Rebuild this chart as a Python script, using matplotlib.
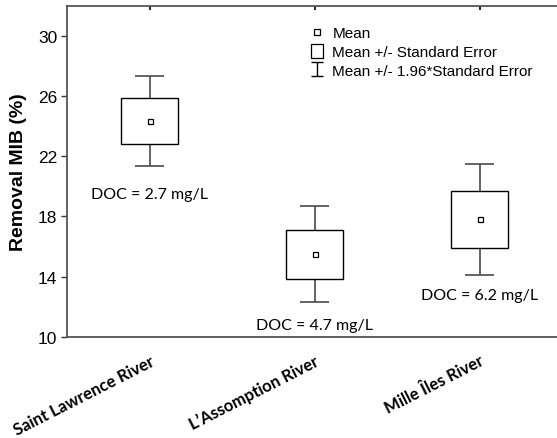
import matplotlib
matplotlib.use("Agg")
import matplotlib.pyplot as plt
from matplotlib.lines import Line2D
from matplotlib.path import Path

# Removal of MIB per source water: mean and standard error
rivers = ["Saint Lawrence River", "L\u2019Assomption River", "Mille \u00celes River"]
mean_removal = [24.35, 15.5, 17.8]
std_error = [1.53, 1.63, 1.89]
doc_labels = ["DOC = 2.7 mg/L", "DOC = 4.7 mg/L", "DOC = 6.2 mg/L"]
doc_label_y = [19.5, 10.8, 12.8]
y_ticks = [10, 14, 18, 22, 26, 30]

fig = plt.figure(figsize=(5.57, 4.39), dpi=100)
ax = fig.add_axes([67 / 557, 101 / 439, 495 / 557, 331.5 / 439])

x = list(range(len(rivers)))
box_w = 0.345
cap_w = 0.175
wcol = "#4a4a4a"

lo_box = [m - s for m, s in zip(mean_removal, std_error)]
hi_box = [m + s for m, s in zip(mean_removal, std_error)]
lo_wh = [m - 1.96 * s for m, s in zip(mean_removal, std_error)]
hi_wh = [m + 1.96 * s for m, s in zip(mean_removal, std_error)]

# whiskers (mean +/- 1.96 SE)
ax.vlines(x, hi_box, hi_wh, color=wcol, lw=1.2, zorder=2)
ax.vlines(x, lo_wh, lo_box, color=wcol, lw=1.2, zorder=2)
ax.hlines(hi_wh, [i - cap_w / 2 for i in x], [i + cap_w / 2 for i in x], color=wcol, lw=1.2, zorder=2)
ax.hlines(lo_wh, [i - cap_w / 2 for i in x], [i + cap_w / 2 for i in x], color=wcol, lw=1.2, zorder=2)

# boxes (mean +/- SE)
ax.bar(x, [h - l for h, l in zip(hi_box, lo_box)], bottom=lo_box, width=box_w,
       facecolor="white", edgecolor="black", linewidth=1.0, zorder=3)

# means
ax.plot(x, mean_removal, ls="none", marker="s", ms=3.6, mfc="white", mec="black", mew=0.9, zorder=4)

for xi, txt, yy in zip(x, doc_labels, doc_label_y):
    ax.text(xi, yy, txt, ha="center", va="center", fontsize=11.5, family="Lato")

ax.set_xlim(-0.5, 2.5)
ax.set_ylim(10, 32)
ax.set_yticks(y_ticks)
ax.tick_params(axis="y", direction="out", length=4, width=1, color="#333333",
               labelsize=12.5, pad=3)
for lab in ax.get_yticklabels():
    lab.set_family("Liberation Sans")

ax.set_xticks(x)
ax.set_xticklabels(rivers, rotation=27, ha="right", rotation_mode="anchor",
                   fontsize=12, fontweight="bold", family="Lato")
ax.tick_params(axis="x", bottom=False, top=True, direction="in", length=3,
               width=1.2, pad=11)

for side in ["left", "bottom", "top"]:
    ax.spines[side].set_color("#555555")
    ax.spines[side].set_linewidth(1.3)
ax.spines["right"].set_visible(False)

ax.set_ylabel("Removal MIB (%)", fontsize=14, fontweight="bold",
              family="Liberation Sans", labelpad=8)

ibeam = Path([(-0.42, -0.5), (0.42, -0.5), (0, -0.5), (0, 0.5), (-0.42, 0.5), (0.42, 0.5)],
             [Path.MOVETO, Path.LINETO, Path.MOVETO, Path.LINETO, Path.MOVETO, Path.LINETO])
tall_box = Path([(-0.42, -0.5), (0.42, -0.5), (0.42, 0.5), (-0.42, 0.5), (-0.42, -0.5)],
                [Path.MOVETO, Path.LINETO, Path.LINETO, Path.LINETO, Path.CLOSEPOLY])
handles = [
    Line2D([], [], ls="none", marker="s", ms=4, mfc="white", mec="black", mew=0.9),
    Line2D([], [], ls="none", marker=tall_box, ms=9.5, mfc="white", mec="black", mew=0.9),
    Line2D([], [], ls="none", marker=ibeam, ms=9.5, mec="black", mew=1.0),
]
labels = ["Mean", "Mean +/- Standard Error", "Mean +/- 1.96*Standard Error"]
leg = ax.legend(handles, labels, loc="upper left", bbox_to_anchor=(309.5 / 557, 1 - 27 / 439),
                bbox_transform=fig.transFigure, frameon=False, handlelength=1.0,
                handletextpad=0.5, labelspacing=0.32, borderpad=0, borderaxespad=0,
                prop={"family": "Liberation Sans", "size": 11})

fig.savefig("out.png", dpi=100)
